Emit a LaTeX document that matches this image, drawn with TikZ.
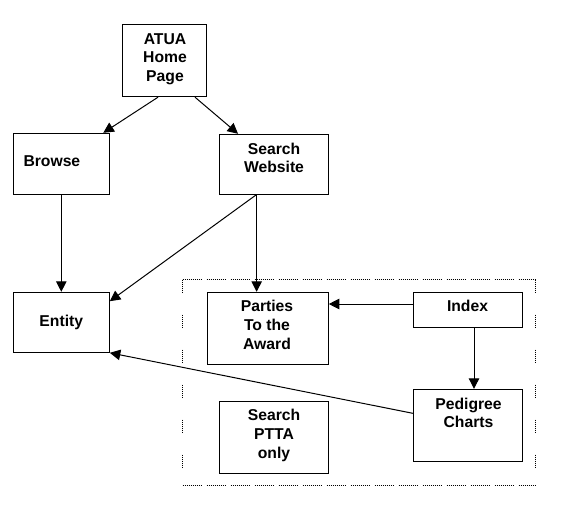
\documentclass[tikz,border=0pt]{standalone}
\usepackage{fontspec}
\setmainfont{Liberation Sans}
\usetikzlibrary{arrows.meta}
\tikzset{
  box/.style={draw=black, line width=1pt, inner sep=0pt, fill=white},
  lbl/.style={inner sep=0pt, align=center, font=\fontsize{15.7}{18.7}\selectfont\bfseries},
  arr/.style={line width=1pt, -{Triangle[length=10.5pt,width=10.5pt]}},
  hdots/.style={line width=1pt, dash pattern=on 1pt off 1pt on 1pt off 1pt on 1pt off 1pt on 1pt off 1pt on 1pt off 1pt on 1pt off 1pt on 1pt off 1pt on 1pt off 1pt on 1pt off 1pt on 1pt off 5pt},
  vdots/.style={line width=1pt, dash pattern=on 1pt off 1pt on 1pt off 1pt on 1pt off 1pt on 1pt off 1pt on 1pt off 1pt on 1pt off 1pt on 1pt off 22pt},
}
\begin{document}
\begin{tikzpicture}[x=1pt,y=-1pt]
\useasboundingbox (0,0) rectangle (561,522);
\fill[white] (0,0) rectangle (561,522);
% dotted frame
\draw[hdots] (182.7,279.5) -- (535,279.5);
\draw[hdots] (182.7,485.5) -- (535,485.5);
\draw[vdots] (182.7,279.5) -- (182.7,485.5);
\draw[vdots] (535,279.5) -- (535,485.5);
% boxes
\node[box, minimum width=84.4pt, minimum height=72.7pt] (atua) at (164.5,60.35) {};
\node[box, minimum width=96pt, minimum height=61pt] (browse) at (61.3,163.8) {};
\node[box, minimum width=108.7pt, minimum height=59.7pt] (search) at (273.65,164.15) {};
\node[box, minimum width=96pt, minimum height=60pt] (entity) at (61.3,322.3) {};
\node[box, minimum width=121pt, minimum height=72pt] (parties) at (267.8,328.3) {};
\node[box, minimum width=109pt, minimum height=35pt] (index) at (467.8,309.8) {};
\node[box, minimum width=109pt, minimum height=72.4pt] (pedigree) at (467.8,425.5) {};
\node[box, minimum width=109pt, minimum height=72.3pt] (ptta) at (273.8,437.15) {};
% labels
\node[lbl] (atuaT) at (165,59.1) {ATUA\\Home\\Page};
\node[lbl, anchor=base west] (browseT) at (23.3,166.5) {Browse};
\node[lbl] (searchT) at (274,157.8) {Search\\Website};
\node[lbl, anchor=base] (entityT) at (61.3,326) {Entity};
\node[lbl] (partiesT) at (267,325) {Parties\\To the\\Award};
\node[lbl, anchor=base] (indexT) at (467.5,311.7) {Index};
\node[lbl] (pedigreeT) at (468.5,412.8) {Pedigree\\Charts};
\node[lbl] (pttaT) at (274,435.6) {Search\\PTTA\\only};
% connectors
\draw[arr] ([xshift=-6.5pt]atua.south) -- ([xshift=42pt]browse.north);
\draw[arr] ([xshift=30.5pt]atua.south) -- ([xshift=-35.6pt]search.north);
\draw[arr] (browse.south) -- (entity.north);
\draw[arr] ([xshift=-17pt]search.south) -- ([yshift=-9.4pt]entity.north east);
\draw[arr] ([xshift=-17pt]search.south) -- ([xshift=-17pt]search.south |- parties.north);
\draw[arr] ([yshift=5.8pt]index.west) -- ([yshift=5.8pt]index.west -| parties.east);
\draw[arr] ([xshift=6.2pt]index.south) -- ([xshift=6.2pt]index.south |- pedigree.north);
\draw[arr] ([yshift=12.2pt]pedigree.west) -- (entity.south east);
\end{tikzpicture}
\end{document}
